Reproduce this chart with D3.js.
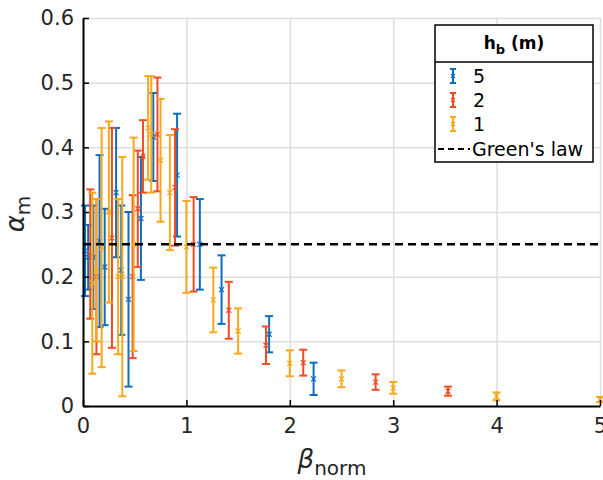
<!DOCTYPE html>
<html>
<head>
<meta charset="utf-8">
<script src="https://cdn.jsdelivr.net/npm/d3@7"></script>
<style>
body { margin: 0; background: #fff; }
text { font-family: "DejaVu Sans", sans-serif; }
</style>
</head>
<body>
<div id="container"></div>
<script>
/* CONSTANTS AND GLOBALS */
const width = 603,
  height = 480,
  margin = {top: 18, right: 3, bottom: 74, left: 83};

/* DATA */
// hb = 5 m (blue)
const blueBeta  = [0.02, 0.05, 0.10, 0.16, 0.21, 0.32, 0.37, 0.44, 0.56, 0.68, 0.91, 1.13, 1.34, 1.80, 2.23];
const blueAlpha = [0.24, 0.23, 0.23, 0.255, 0.215, 0.33, 0.21, 0.165, 0.29, 0.416, 0.357, 0.25, 0.18, 0.111, 0.042];
const blueErr   = [0.07, 0.05, 0.08, 0.133, 0.09, 0.10, 0.10, 0.135, 0.095, 0.068, 0.095, 0.07, 0.053, 0.028, 0.025];
// hb = 2 m (red)
const redBeta  = [0.07, 0.13, 0.28, 0.48, 0.53, 0.58, 0.72, 0.89, 1.07, 1.41, 1.77, 2.13, 2.83, 3.53];
const redAlpha = [0.235, 0.20, 0.26, 0.20, 0.305, 0.386, 0.42, 0.338, 0.25, 0.148, 0.094, 0.067, 0.037, 0.023];
const redErr   = [0.10, 0.12, 0.17, 0.126, 0.09, 0.056, 0.088, 0.09, 0.073, 0.044, 0.029, 0.02, 0.012, 0.007];
// hb = 1 m (orange)
const orangeBeta  = [0.09, 0.13, 0.18, 0.25, 0.34, 0.38, 0.49, 0.63, 0.66, 0.75, 0.84, 1.00, 1.26, 1.50, 2.00, 2.50, 3.00, 4.00, 5.00];
const orangeAlpha = [0.19, 0.21, 0.245, 0.30, 0.20, 0.20, 0.25, 0.43, 0.42, 0.38, 0.33, 0.246, 0.164, 0.116, 0.066, 0.042, 0.028, 0.015, 0.01];
const orangeErr   = [0.14, 0.11, 0.185, 0.14, 0.12, 0.185, 0.165, 0.08, 0.09, 0.095, 0.089, 0.071, 0.05, 0.035, 0.02, 0.013, 0.009, 0.006, 0.004];

const legendNames = ["5", "2", "1"];
const colors = ["#0a6fc2", "#f04c24", "#f7a81b"];
const greensLaw = 0.25;
const xTicks = [0, 1, 2, 3, 4, 5];
const yTicks = [0, 0.1, 0.2, 0.3, 0.4, 0.5, 0.6];

const series = [
  {name: legendNames[0], color: colors[0], beta: blueBeta, alpha: blueAlpha, err: blueErr},
  {name: legendNames[1], color: colors[1], beta: redBeta, alpha: redAlpha, err: redErr},
  {name: legendNames[2], color: colors[2], beta: orangeBeta, alpha: orangeAlpha, err: orangeErr}
];

/* SCALES */
const xScale = d3.scaleLinear()
  .domain([0, 5])
  .range([margin.left, width - margin.right]);

const yScale = d3.scaleLinear()
  .domain([0, 0.6])
  .range([height - margin.bottom, margin.top]);

const svg = d3.select("#container").append("svg")
  .attr("width", width)
  .attr("height", height);

// grid
svg.append("g")
  .attr("transform", `translate(0,${height - margin.bottom})`)
  .call(d3.axisBottom(xScale).tickValues(xTicks).tickSize(-(height - margin.bottom - margin.top)).tickFormat(""))
  .call(g => g.select(".domain").remove())
  .call(g => g.selectAll("line").attr("stroke", "#dedede").attr("stroke-width", 1.5));

svg.append("g")
  .attr("transform", `translate(${margin.left},0)`)
  .call(d3.axisLeft(yScale).tickValues(yTicks).tickSize(-(width - margin.right - margin.left)).tickFormat(""))
  .call(g => g.select(".domain").remove())
  .call(g => g.selectAll("line").attr("stroke", "#dedede").attr("stroke-width", 1.5));

// error bars
const cap = 4, mk = 2.5;
series.forEach(s => {
  const pts = s.beta.map((b, i) => ({b: b, a: s.alpha[i], e: s.err[i]}));
  const g = svg.append("g")
    .attr("stroke", s.color)
    .attr("stroke-width", 2)
    .attr("fill", "none");

  const bars = g.selectAll("g.bar")
    .data(pts)
    .join("g")
    .attr("class", "bar");

  bars.append("line")
    .attr("x1", d => xScale(d.b)).attr("x2", d => xScale(d.b))
    .attr("y1", d => yScale(d.a + d.e)).attr("y2", d => yScale(d.a - d.e));
  bars.append("line")
    .attr("x1", d => xScale(d.b) - cap).attr("x2", d => xScale(d.b) + cap)
    .attr("y1", d => yScale(d.a + d.e)).attr("y2", d => yScale(d.a + d.e));
  bars.append("line")
    .attr("x1", d => xScale(d.b) - cap).attr("x2", d => xScale(d.b) + cap)
    .attr("y1", d => yScale(d.a - d.e)).attr("y2", d => yScale(d.a - d.e));
  // x markers
  bars.append("path")
    .attr("stroke-width", 1.2)
    .attr("d", d => {
      const x = xScale(d.b), y = yScale(d.a);
      return `M${x - mk},${y - mk}L${x + mk},${y + mk}M${x - mk},${y + mk}L${x + mk},${y - mk}`;
    });
});

// Green's law
svg.append("line")
  .attr("x1", xScale(0)).attr("x2", xScale(5))
  .attr("y1", yScale(greensLaw)).attr("y2", yScale(greensLaw))
  .attr("stroke", "#000")
  .attr("stroke-width", 2.5)
  .attr("stroke-dasharray", "8,5");

// axes
const xAxis = d3.axisBottom(xScale).tickValues(xTicks).tickSizeInner(-6).tickSizeOuter(0).tickPadding(12).tickFormat(d3.format("d"));
const yAxis = d3.axisLeft(yScale).tickValues(yTicks).tickSizeInner(-6).tickSizeOuter(0).tickPadding(9).tickFormat(d => d === 0 ? "0" : d3.format(".1f")(d));

svg.append("g")
  .attr("transform", `translate(0,${height - margin.bottom})`)
  .call(xAxis)
  .call(g => g.select(".domain").attr("stroke", "#000").attr("stroke-width", 2))
  .call(g => g.selectAll("line").attr("stroke", "#000").attr("stroke-width", 1.5))
  .call(g => g.selectAll("text").attr("font-size", 21).attr("fill", "#262626").attr("font-family", "DejaVu Sans"));

svg.append("g")
  .attr("transform", `translate(${margin.left},0)`)
  .call(yAxis)
  .call(g => g.select(".domain").attr("stroke", "#000").attr("stroke-width", 2))
  .call(g => g.selectAll("line").attr("stroke", "#000").attr("stroke-width", 1.5))
  .call(g => g.selectAll("text").attr("font-size", 21).attr("fill", "#262626").attr("font-family", "DejaVu Sans"));

// axis labels
const xl = svg.append("text")
  .attr("x", 332).attr("y", 468)
  .attr("text-anchor", "middle")
  .attr("fill", "#262626");
xl.append("tspan").attr("font-size", 26).attr("font-style", "italic").text("β");
xl.append("tspan").attr("font-size", 20).attr("dy", 7).text("norm");

const yl = svg.append("text")
  .attr("transform", "translate(24,214) rotate(-90)")
  .attr("text-anchor", "middle")
  .attr("fill", "#262626");
yl.append("tspan").attr("font-size", 26).attr("font-style", "italic").text("α");
yl.append("tspan").attr("font-size", 20).attr("dy", 6).text("m");

/* LEGEND */
const lg = svg.append("g");
lg.append("rect")
  .attr("x", 435).attr("y", 25).attr("width", 158).attr("height", 137)
  .attr("fill", "#fff").attr("stroke", "#000").attr("stroke-width", 1.5);
lg.append("line")
  .attr("x1", 435).attr("x2", 593).attr("y1", 62).attr("y2", 62)
  .attr("stroke", "#000").attr("stroke-width", 1.5);
const title = lg.append("text")
  .attr("x", 514).attr("y", 49)
  .attr("text-anchor", "middle")
  .attr("font-size", 17).attr("font-weight", "bold").attr("fill", "#000");
title.append("tspan").text("h");
title.append("tspan").attr("font-size", 13).attr("dy", 5).text("b");
title.append("tspan").attr("dy", -5).text(" (m)");

series.forEach((s, i) => {
  const y = 76 + i * 24;
  const ig = lg.append("g").attr("stroke", s.color).attr("stroke-width", 2);
  ig.append("line").attr("x1", 453).attr("x2", 453).attr("y1", y - 7).attr("y2", y + 7);
  ig.append("line").attr("x1", 450).attr("x2", 456).attr("y1", y - 7).attr("y2", y - 7);
  ig.append("line").attr("x1", 450).attr("x2", 456).attr("y1", y + 7).attr("y2", y + 7);
  ig.append("path").attr("stroke-width", 1.2).attr("fill", "none")
    .attr("d", `M${453 - 2},${y - 2}L${453 + 2},${y + 2}M${453 - 2},${y + 2}L${453 + 2},${y - 2}`);
  lg.append("text")
    .attr("x", 473).attr("y", y + 7)
    .attr("font-size", 19).attr("fill", "#000")
    .text(s.name);
});
lg.append("line")
  .attr("x1", 438).attr("x2", 470).attr("y1", 149).attr("y2", 149)
  .attr("stroke", "#000").attr("stroke-width", 2).attr("stroke-dasharray", "6,4");
lg.append("text")
  .attr("x", 472).attr("y", 156)
  .attr("font-size", 19).attr("fill", "#000")
  .text("Green's law");
</script>
</body>
</html>
